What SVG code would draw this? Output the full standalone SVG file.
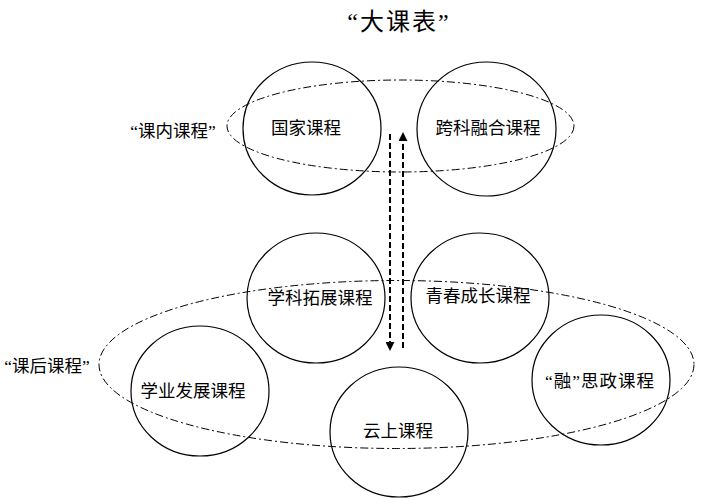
<svg xmlns="http://www.w3.org/2000/svg" width="703" height="499" viewBox="0 0 703 499">
<style>
.c{fill:none;stroke:#000;stroke-width:1.2}
.g{fill:none;stroke:#000;stroke-width:1;stroke-dasharray:8 3 2 3}
.a{fill:none;stroke:#000;stroke-width:2;stroke-dasharray:6 3}
text{font-family:"Liberation Serif","Noto Sans CJK SC",serif;font-size:17.5px;fill:#000;text-anchor:middle;dominant-baseline:central}
</style>
<defs>
<marker id="ah" viewBox="0 0 10 10" refX="9" refY="5" markerWidth="4.5" markerHeight="4.5" orient="auto" markerUnits="strokeWidth">
<path d="M0,0 L10,5 L0,10 Z" fill="#000"/>
</marker>
</defs>
<rect width="703" height="499" fill="#fff"/>
<text x="399" y="22" style="font-size:24px;letter-spacing:2px">“大课表”</text>
<g id="groups">
<ellipse class="g" cx="400.5" cy="126" rx="173.5" ry="46"/>
<ellipse class="g" cx="396.5" cy="364.5" rx="297.5" ry="84"/>
<text x="173" y="131">“课内课程”</text>
<text x="47" y="366">“课后课程”</text>
</g>
<g id="n1"><ellipse class="c" cx="312" cy="128.5" rx="69" ry="66.5"/><text x="306" y="128">国家课程</text></g>
<g id="n2"><ellipse class="c" cx="486.5" cy="129" rx="69.5" ry="67"/><text x="488" y="128">跨科融合课程</text></g>
<g id="n3"><ellipse class="c" cx="316" cy="298" rx="69" ry="65"/><text x="320" y="298">学科拓展课程</text></g>
<g id="n4"><ellipse class="c" cx="480" cy="298" rx="69" ry="65"/><text x="478" y="296">青春成长课程</text></g>
<g id="n5"><ellipse class="c" cx="200" cy="391" rx="69" ry="65"/><text x="193" y="391">学业发展课程</text></g>
<g id="n6"><ellipse class="c" cx="399" cy="432" rx="69" ry="65"/><text x="398" y="431">云上课程</text></g>
<g id="n7"><ellipse class="c" cx="601" cy="380" rx="69" ry="65"/><text x="600" y="381" style="letter-spacing:1px">“融”思政课程</text></g>
<g id="connectors">
<line class="a" x1="390" y1="134" x2="390" y2="350" marker-end="url(#ah)"/>
<line class="a" x1="403" y1="348" x2="403" y2="133" marker-end="url(#ah)"/>
</g>
</svg>
